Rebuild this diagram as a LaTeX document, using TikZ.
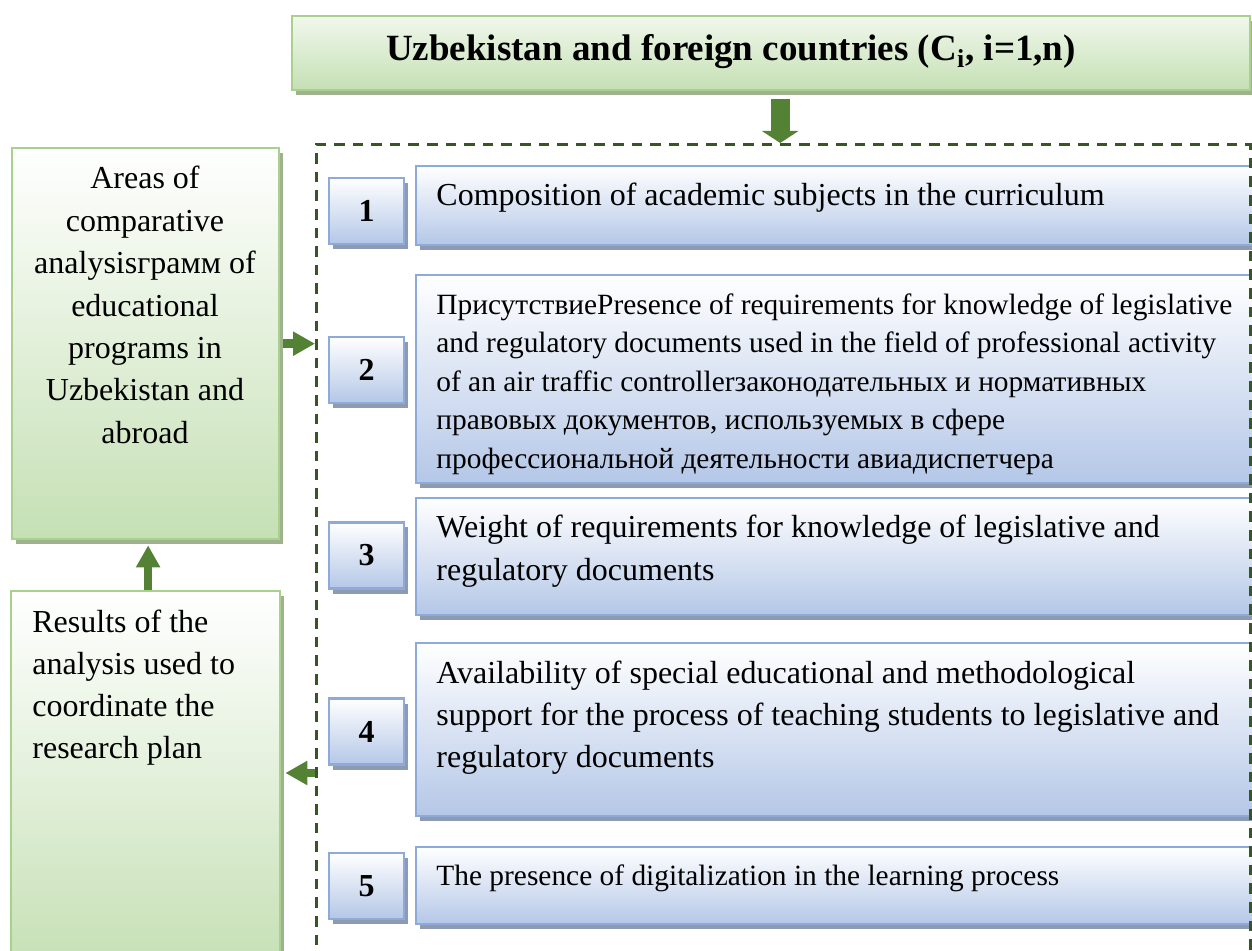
\documentclass[tikz,border=0pt]{standalone}
\usepackage{fontspec}
\setmainfont{Liberation Serif}
\usetikzlibrary{positioning}
\usetikzlibrary{arrows.meta}
\usetikzlibrary{shadows}
\definecolor{gfill}{HTML}{C5E0B4}
\definecolor{gline}{HTML}{A9D18E}
\definecolor{gshade}{HTML}{A0B18E}
\definecolor{bfill}{HTML}{B4C7E7}
\definecolor{bline}{HTML}{8EAADB}
\definecolor{bshade}{HTML}{8E9AB0}
\definecolor{arrgreen}{HTML}{548235}
\definecolor{dashgreen}{HTML}{375623}
\tikzset{gbox/.style={draw=gline, line width=1.2pt, top color=white, bottom color=gfill, inner sep=0pt, anchor=north west,
  drop shadow={shadow xshift=2pt, shadow yshift=-2.5pt, fill=gshade, opacity=1}}}
\tikzset{bbox/.style={draw=bline, line width=1.2pt, top color=white, bottom color=bfill, inner sep=0pt,
  drop shadow={shadow xshift=2pt, shadow yshift=-2.5pt, fill=bshade, opacity=1}}}
\tikzset{nbox/.style={bbox, minimum width=37.5pt, minimum height=33pt, font=\fontsize{16}{20}\selectfont\bfseries}}
\tikzset{cbox/.style={bbox, anchor=north west, minimum width=422.5pt}}
\tikzset{txt/.style={inner sep=0pt, align=left, anchor=north west, font=\fontsize{16}{21}\selectfont}}
\tikzset{small/.style={font=\fontsize{14.7}{19.3}\selectfont}}
\tikzset{arr/.style={draw=arrgreen, line width=4.3pt, -{Triangle[width=11.5pt,length=11pt]}}}

\begin{document}
\begin{tikzpicture}[x=0.5pt, y=-0.5pt]
\useasboundingbox (0,0) rectangle (1252,951);
\clip (0,0) rectangle (1252,951);

% countries on top
\node[gbox, top color=white!75!gfill, minimum width=479pt, minimum height=37pt] (top) at (291,15) {};
\node[inner sep=0pt, font=\fontsize{18.5}{22}\selectfont\bfseries] (ttl) at (731,52)
  {Uzbekistan and foreign countries (C\textsubscript{i}, i=1,n)};

% left column
\node[gbox, minimum width=133.5pt, minimum height=195.5pt] (areas) at (11,147) {};
\node[txt, align=center, anchor=north, font=\fontsize{16}{21.2}\selectfont] (areastxt) at (145,166)
  {Areas of\\comparative\\analysisграмм of\\educational\\programs in\\Uzbekistan and\\abroad};
\node[gbox, minimum width=134.5pt, minimum height=190pt] (results) at (10,590) {};
\node[txt] (resultstxt) at (32,610)
  {Results of the\\analysis used to\\coordinate the\\research plan};

% criteria
\node[cbox, minimum height=39.5pt] (c1) at (415,165) {};
\node[cbox, minimum height=104pt] (c2) at (415,274) {};
\node[cbox, minimum height=58.5pt] (c3) at (415,497) {};
\node[cbox, minimum height=86.5pt] (c4) at (415,642) {};
\node[cbox, minimum height=38.5pt] (c5) at (415,846) {};

\node[nbox] (n1) at (366.5,211) {1};
\node[nbox] (n2) at (366.5,370) {2};
\node[nbox] (n3) at (366.5,555.5) {3};
\node[nbox] (n4) at (366.5,731.5) {4};
\node[nbox] (n5) at (366.5,886) {5};

\node[txt] (t1) at ([xshift=10.5pt,yshift=-9pt]c1.north west)
  {Composition of academic subjects in the curriculum};
\node[txt, small] (t2) at ([xshift=10.5pt,yshift=-9.5pt]c2.north west)
  {ПрисутствиеPresence of requirements for knowledge of legislative\\
   and regulatory documents used in the field of professional activity\\
   of an air traffic controllerзаконодательных и нормативных\\
   правовых документов, используемых в сфере\\
   профессиональной деятельности авиадиспетчера};
\node[txt, font=\fontsize{16}{21.5}\selectfont] (t3) at ([xshift=10.5pt,yshift=-9pt]c3.north west)
  {Weight of requirements for knowledge of legislative and\\
   regulatory documents};
\node[txt] (t4) at ([xshift=10.5pt,yshift=-9.5pt]c4.north west)
  {Availability of special educational and methodological\\
   support for the process of teaching students to legislative and\\
   regulatory documents};
\node[txt, small] (t5) at ([xshift=10.5pt,yshift=-9pt]c5.north west)
  {The presence of digitalization in the learning process};

% dashed frame
\node[draw=dashgreen, line width=1.3pt, dash pattern=on 5.3pt off 4pt, anchor=north west,
  minimum width=467pt, minimum height=410pt, inner sep=0pt] (frame) at (315,143) {};

% arrows
\draw[arr, line width=9.5pt, -{Triangle[width=18pt,length=6pt]}]
  ([xshift=4.5pt,yshift=-4pt]top.south) -- ([xshift=4.5pt]top.south |- frame.north);
\draw[arr] ([xshift=1.5pt]areas.east) -- (areas.east -| frame.west);
\draw[arr] ([xshift=1.2pt]results.north) -- ([xshift=1.2pt,yshift=-2.5pt]areas.south);
\coordinate (back) at (315,773);
\draw[arr] (back) -- ([xshift=2pt]back -| results.east);
\end{tikzpicture}
\end{document}
